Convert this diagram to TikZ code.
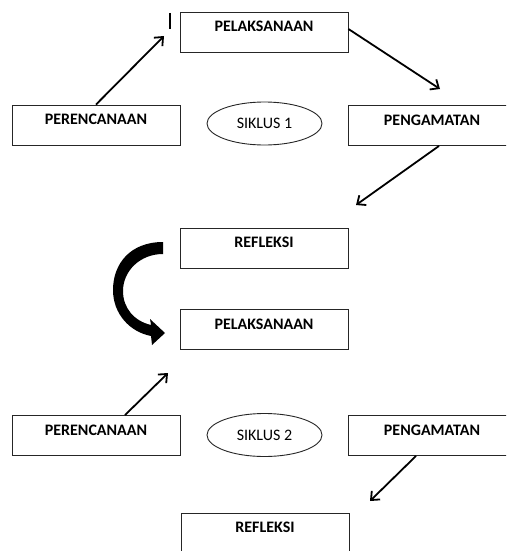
\documentclass[tikz,border=0pt]{standalone}
\usepackage{fontspec}
\setmainfont{Carlito}
\usetikzlibrary{shapes.geometric,arrows.meta}
\begin{document}
\begin{tikzpicture}[x=1pt,y=-1pt,
  box/.style={draw=black!85,line width=0.9pt,rectangle,inner sep=0pt,
    text width=168pt,align=center,text height=19.5pt,text depth=20.5pt,
    font=\fontsize{16}{16}\selectfont\bfseries},
  oval/.style={draw=black!85,line width=0.9pt,ellipse,inner sep=0pt,
    minimum width=115pt,minimum height=43pt,
    font=\fontsize{16}{16}\selectfont},
  conn/.style={line width=1.8pt,-{Straight Barb[length=7pt,width=12pt,line width=1.8pt]}}]
\clip (0,0) rectangle (506,551);
\fill[white] (0,0) rectangle (506,551);
% cycle 1
\node[box] (pelA) at (264,32) {PELAKSANAAN};
\node[box] (perA) at (96,125) {PERENCANAAN};
\node[oval] (sikA) at (264.5,123.5) {SIKLUS 1};
\node[box] (penA) at (432,125.5) {PENGAMATAN};
\node[box] (refA) at (264,248) {REFLEKSI};
% cycle 2
\node[box] (pelB) at (264,329.5) {PELAKSANAAN};
\node[box] (perB) at (96,435.5) {PERENCANAAN};
\node[oval] (sikB) at (264.5,435) {SIKLUS 2};
\node[box] (penB) at (432,435.5) {PENGAMATAN};
\node[box] (refB) at (265,533) {REFLEKSI};
% free ends
\coordinate (e1) at (164,36);
\coordinate (e2) at (440,89);
\coordinate (e3) at (356,205);
\coordinate (e4) at (168,373);
\coordinate (e5) at (370,501);
\draw[conn] (perA.north) -- (e1);
\draw[conn] ([yshift=3pt]pelA.east) -- (e2);
\draw[conn] ([xshift=7pt]penA.south) -- (e3);
\draw[conn] ([xshift=29pt]perB.north) -- (e4);
\draw[conn] ([xshift=-16pt]penB.south) -- (e5);
% cursor mark
\draw[line width=2pt] (170,13) -- (170,29);
% curved block arrow
\fill[black] (163,242) .. controls (130,242) and (113,264) .. (113,290)
  .. controls (113,314) and (130,332) .. (151,336)
  -- (152,345) -- (165,333) -- (150,319) -- (151,325)
  .. controls (134,321) and (123,308) .. (123,291)
  .. controls (123,271) and (140,254) .. (163,254) -- cycle;
\end{tikzpicture}
\end{document}
